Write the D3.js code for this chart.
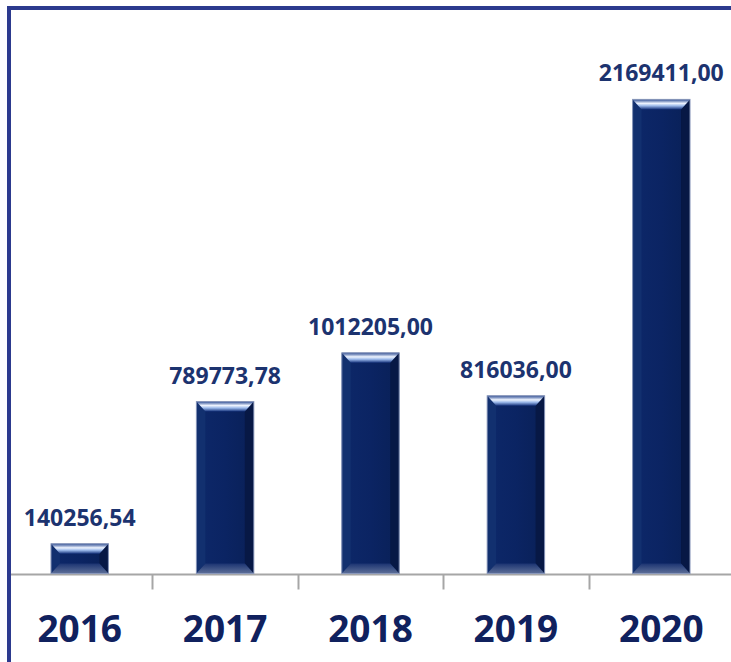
<!DOCTYPE html>
<html><head><meta charset="utf-8">
<script src="https://cdn.jsdelivr.net/npm/d3@7"></script>
<style>html,body{margin:0;padding:0;background:#fff;overflow:hidden}</style>
</head><body><svg id="c" width="731" height="662"></svg>
<script>
const categories = ["2016","2017","2018","2019","2020"];
const values = [140256.54, 789773.78, 1012205.00, 816036.00, 2169411.00];
const valueLabels = ["140256,54","789773,78","1012205,00","816036,00","2169411,00"];

const svg = d3.select("#c");
const W = 731, H = 662;
const baseY = 574.5;
const x = d3.scaleBand().domain(categories).range([7, 734]).paddingInner(0).paddingOuter(0);
const y = d3.scaleLinear().domain([0, 2500000]).range([baseY, 27]);
const barW = x.bandwidth() * 0.395;

const defs = svg.append("defs");
const gTop = defs.append("linearGradient").attr("id","gTop").attr("x1",0).attr("y1",0).attr("x2",0).attr("y2",1);
gTop.append("stop").attr("offset","0%").attr("stop-color","#2b4b92");
gTop.append("stop").attr("offset","40%").attr("stop-color","#eef4ff");
gTop.append("stop").attr("offset","65%").attr("stop-color","#9ab8ea");
gTop.append("stop").attr("offset","100%").attr("stop-color","#14317a");
const gBot = defs.append("linearGradient").attr("id","gBot").attr("x1",0).attr("y1",0).attr("x2",0).attr("y2",1);
gBot.append("stop").attr("offset","0%").attr("stop-color","#1c3472");
gBot.append("stop").attr("offset","100%").attr("stop-color","#5d6f98");
const gMain = defs.append("linearGradient").attr("id","gMain").attr("x1",0).attr("y1",0).attr("x2",1).attr("y2",0);
gMain.append("stop").attr("offset","0%").attr("stop-color","#0d2869");
gMain.append("stop").attr("offset","50%").attr("stop-color","#0b2463");
gMain.append("stop").attr("offset","100%").attr("stop-color","#092057");

// border
svg.append("rect").attr("x",9).attr("y",8).attr("width",740).attr("height",700)
  .attr("fill","none").attr("stroke","#2c3a8e").attr("stroke-width",4);

// axis line
svg.append("line").attr("x1",11).attr("x2",W).attr("y1",baseY).attr("y2",baseY)
  .attr("stroke","#a6a6a6").attr("stroke-width",2);
// ticks at category boundaries
svg.selectAll(".tick").data(categories.slice(1)).enter().append("line")
  .attr("x1", d => Math.round(x(d)) + 0.5).attr("x2", d => Math.round(x(d)) + 0.5)
  .attr("y1", baseY).attr("y2", baseY + 15)
  .attr("stroke","#a6a6a6").attr("stroke-width",2);

const bars = svg.selectAll(".bar").data(categories).enter().append("g");
bars.each(function(d, i) {
  const g = d3.select(this);
  const x0 = x(d) + (x.bandwidth() - barW) / 2, x1 = x0 + barW;
  const t = y(values[i]), b = baseY - 1;
  const bev = Math.min(10, (b - t) / 2.6), ins = 9;
  g.append("rect").attr("x",x0).attr("y",t).attr("width",barW).attr("height",b - t)
    .attr("fill","url(#gMain)");
  g.append("polygon").attr("points",[[x0,t],[x0+ins,t+bev],[x0+ins,b-bev],[x0,b]].join(" "))
    .attr("fill","#12306f");
  g.append("polygon").attr("points",[[x1,t],[x1-ins,t+bev],[x1-ins,b-bev],[x1,b]].join(" "))
    .attr("fill","#071845");
  g.append("polygon").attr("points",[[x0,t],[x1,t],[x1-ins,t+bev],[x0+ins,t+bev]].join(" "))
    .attr("fill","url(#gTop)");
  g.append("polygon").attr("points",[[x0+ins,b-bev],[x1-ins,b-bev],[x1,b],[x0,b]].join(" "))
    .attr("fill","url(#gBot)");
  g.append("rect").attr("x",x0).attr("y",t).attr("width",barW).attr("height",b - t)
    .attr("fill","none").attr("stroke","#8a98bb").attr("stroke-width",1);
});

// value labels
svg.selectAll(".vl").data(categories).enter().append("text")
  .attr("x", d => x(d) + x.bandwidth()/2)
  .attr("y", (d, i) => y(values[i]) - 18)
  .attr("text-anchor","middle")
  .attr("font-family","'Open Sans', sans-serif").attr("font-weight","bold")
  .attr("font-size", 23).attr("fill","#1c336f")
  .text((d, i) => valueLabels[i]);

// category labels
svg.selectAll(".cl").data(categories).enter().append("text")
  .attr("x", d => x(d) + x.bandwidth()/2)
  .attr("y", 642)
  .attr("text-anchor","middle")
  .attr("font-family","'Open Sans', sans-serif").attr("font-weight","bold")
  .attr("font-size", 37).attr("fill","#10215e")
  .text(d => d);
</script></body></html>
